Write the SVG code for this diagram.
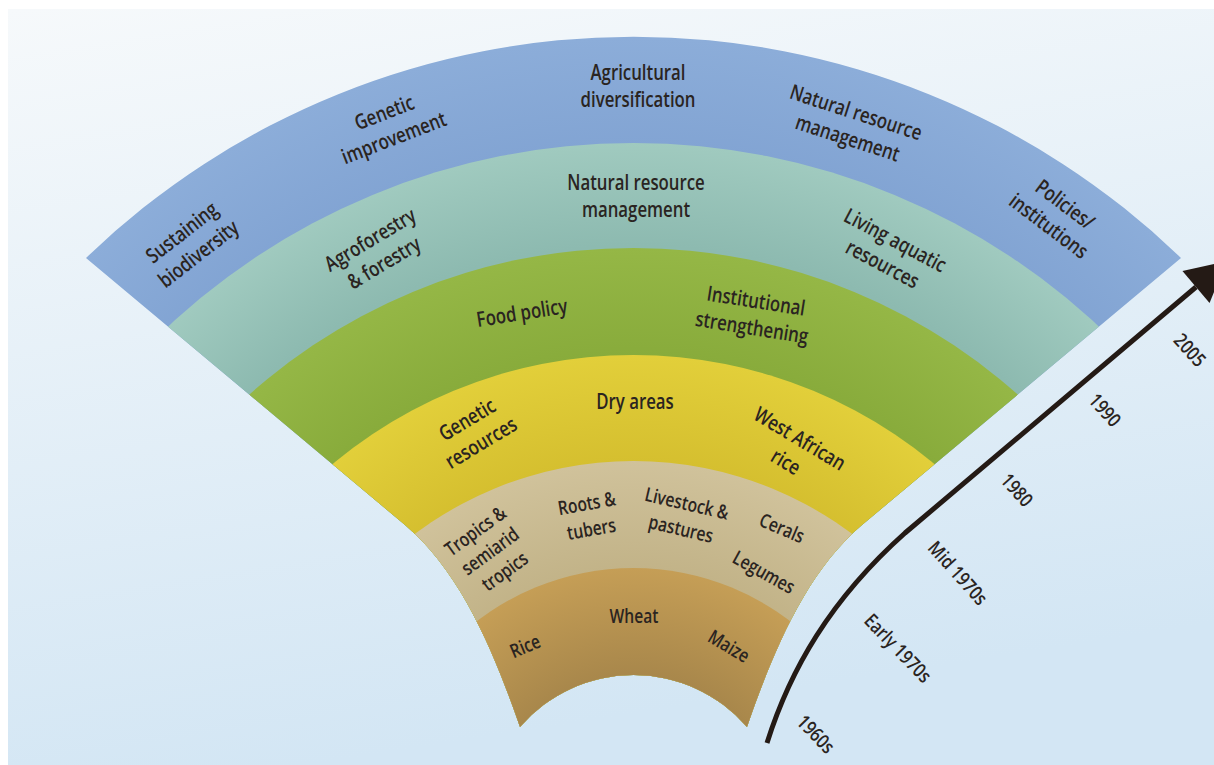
<svg xmlns="http://www.w3.org/2000/svg" width="1214" height="765" viewBox="0 0 1214 765">
  <defs>
    <style>
      .lbl { font-family: "Open Sans", "Liberation Sans", sans-serif; font-size: 21px; font-weight: 600; fill: #2a2421; text-anchor: middle; }
      .sm { font-size: 19.5px; }
      .yr { font-family: "Open Sans", "Liberation Sans", sans-serif; font-size: 19.5px; font-weight: 600; fill: #2a2421; text-anchor: middle; }
      .axis { fill: none; stroke: #241a15; stroke-width: 5; stroke-linecap: butt; }
    </style>
    <linearGradient id="bg" x1="0" y1="0" x2="0.25" y2="1">
      <stop offset="0" stop-color="#f6f9fb"/>
      <stop offset="1" stop-color="#d3e6f4"/>
    </linearGradient>
    <radialGradient id="gBlue" gradientUnits="userSpaceOnUse" cx="633.5" cy="825" r="788">
      <stop offset="0.86" stop-color="#82a4d3"/>
      <stop offset="1" stop-color="#8cadd9"/>
    </radialGradient>
    <radialGradient id="gTeal" gradientUnits="userSpaceOnUse" cx="633.5" cy="825" r="682">
      <stop offset="0.85" stop-color="#8dbab0"/>
      <stop offset="1" stop-color="#a0cabf"/>
    </radialGradient>
    <radialGradient id="gGreen" gradientUnits="userSpaceOnUse" cx="633.5" cy="825" r="577">
      <stop offset="0.81" stop-color="#88ab3b"/>
      <stop offset="1" stop-color="#95b746"/>
    </radialGradient>
    <radialGradient id="gYellow" gradientUnits="userSpaceOnUse" cx="633.5" cy="825" r="470">
      <stop offset="0.77" stop-color="#d5bf2f"/>
      <stop offset="1" stop-color="#e2cf3a"/>
    </radialGradient>
    <radialGradient id="gTan" gradientUnits="userSpaceOnUse" cx="633.5" cy="825" r="364">
      <stop offset="0.7" stop-color="#c2b388"/>
      <stop offset="1" stop-color="#d0c29b"/>
    </radialGradient>
    <radialGradient id="gBrown" gradientUnits="userSpaceOnUse" cx="633.5" cy="825" r="257">
      <stop offset="0.58" stop-color="#a8874b"/>
      <stop offset="1" stop-color="#c59e56"/>
    </radialGradient>
    <!-- fan outline: outer arc, curved flanks, inner arc -->
    <clipPath id="fanClip">
      <path d="M520,727 C495,655 462,573 405,525 L86,258 A788,788 0 0 1 1181,258 L862,525 C805,573 772,655 747,727 A150,150 0 0 0 520,727 Z"/>
    </clipPath>
    <marker id="arrowHead" markerUnits="userSpaceOnUse" viewBox="0 0 40 42" refX="0" refY="21" markerWidth="40" markerHeight="42" orient="auto" overflow="visible">
      <path d="M0,0 L40,21 L0,42 Z" fill="#241a15"/>
    </marker>
  </defs>

  <!-- page -->
  <rect x="0" y="0" width="1214" height="765" fill="#ffffff"/>
  <rect x="8" y="9" width="1206" height="756" fill="url(#bg)"/>

  <!-- rings, outermost first; each circle is clipped to the fan -->
  <g id="band-2005" clip-path="url(#fanClip)">
    <rect x="0" y="0" width="1214" height="765" fill="url(#gBlue)"/>
  </g>
  <g id="band-1990" clip-path="url(#fanClip)">
    <circle cx="633.5" cy="825" r="682" fill="url(#gTeal)"/>
  </g>
  <g id="band-1980" clip-path="url(#fanClip)">
    <circle cx="633.5" cy="825" r="577" fill="url(#gGreen)"/>
  </g>
  <g id="band-mid1970s" clip-path="url(#fanClip)">
    <circle cx="633.5" cy="825" r="470" fill="url(#gYellow)"/>
  </g>
  <g id="band-early1970s" clip-path="url(#fanClip)">
    <circle cx="633.5" cy="825" r="364" fill="url(#gTan)"/>
  </g>
  <g id="band-1960s" clip-path="url(#fanClip)">
    <circle cx="633.5" cy="825" r="257" fill="url(#gBrown)"/>
  </g>

  <!-- outer ring labels -->
  <g id="lbl-biodiversity" transform="translate(190,243) rotate(-38)">
    <text class="lbl" transform="scale(0.8,1)"><tspan x="0" y="-6">Sustaining</tspan><tspan x="0" y="21">biodiversity</tspan></text>
  </g>
  <g id="lbl-genetic-improvement" transform="translate(389,125) rotate(-21)">
    <text class="lbl" transform="scale(0.8,1)"><tspan x="0" y="-6">Genetic</tspan><tspan x="0" y="21">improvement</tspan></text>
  </g>
  <g id="lbl-diversification" transform="translate(638,87)">
    <text class="lbl" transform="scale(0.8,1)"><tspan x="0" y="-7">Agricultural</tspan><tspan x="0" y="20">diversification</tspan></text>
  </g>
  <g id="lbl-nrm-outer" transform="translate(852,125) rotate(18)">
    <text class="lbl" transform="scale(0.8,1)"><tspan x="0" y="-6">Natural resource</tspan><tspan x="0" y="21">management</tspan></text>
  </g>
  <g id="lbl-policies" transform="translate(1057,215) rotate(37)">
    <text class="lbl" transform="scale(0.8,1)"><tspan x="0" y="-6">Policies/</tspan><tspan x="0" y="21">institutions</tspan></text>
  </g>

  <!-- second ring labels -->
  <g id="lbl-agroforestry" transform="translate(377,251) rotate(-31)">
    <text class="lbl" transform="scale(0.8,1)"><tspan x="0" y="-6">Agroforestry</tspan><tspan x="0" y="21">&amp; forestry</tspan></text>
  </g>
  <g id="lbl-nrm-inner" transform="translate(636,197)">
    <text class="lbl" transform="scale(0.8,1)"><tspan x="0" y="-7">Natural resource</tspan><tspan x="0" y="20">management</tspan></text>
  </g>
  <g id="lbl-aquatic" transform="translate(889,252) rotate(28)">
    <text class="lbl" transform="scale(0.8,1)"><tspan x="0" y="-6">Living aquatic</tspan><tspan x="0" y="21">resources</tspan></text>
  </g>

  <!-- third ring labels -->
  <g id="lbl-food-policy" transform="translate(522,313) rotate(-9)">
    <text class="lbl" transform="scale(0.8,1)"><tspan x="0" y="7">Food policy</tspan></text>
  </g>
  <g id="lbl-institutional" transform="translate(754,314) rotate(9)">
    <text class="lbl" transform="scale(0.8,1)"><tspan x="0" y="-6">Institutional</tspan><tspan x="0" y="21">strengthening</tspan></text>
  </g>

  <!-- fourth ring labels -->
  <g id="lbl-genetic-resources" transform="translate(474,431) rotate(-31)">
    <text class="lbl" transform="scale(0.8,1)"><tspan x="0" y="-6">Genetic</tspan><tspan x="0" y="21">resources</tspan></text>
  </g>
  <g id="lbl-dry-areas" transform="translate(635,402)">
    <text class="lbl" transform="scale(0.8,1)"><tspan x="0" y="7">Dry areas</tspan></text>
  </g>
  <g id="lbl-west-african-rice" transform="translate(793,450) rotate(31)">
    <text class="lbl" transform="scale(0.8,1)"><tspan x="0" y="-6">West African</tspan><tspan x="0" y="21">rice</tspan></text>
  </g>

  <!-- fifth ring labels -->
  <g id="lbl-tropics" transform="translate(490,551) rotate(-36)">
    <text class="lbl sm" transform="scale(0.8,1)"><tspan x="0" y="-18">Tropics &amp;</tspan><tspan x="0" y="7">semiarid</tspan><tspan x="0" y="32">tropics</tspan></text>
  </g>
  <g id="lbl-roots" transform="translate(589,516) rotate(-10)">
    <text class="lbl sm" transform="scale(0.8,1)"><tspan x="0" y="-6">Roots &amp;</tspan><tspan x="0" y="20">tubers</tspan></text>
  </g>
  <g id="lbl-livestock" transform="translate(684,516) rotate(13)">
    <text class="lbl sm" transform="scale(0.8,1)"><tspan x="0" y="-6">Livestock &amp;</tspan><tspan x="0" y="20">pastures</tspan></text>
  </g>
  <g id="lbl-cerals" transform="translate(782,528) rotate(23)">
    <text class="lbl sm" transform="scale(0.8,1)"><tspan x="0" y="7">Cerals</tspan></text>
  </g>
  <g id="lbl-legumes" transform="translate(764,572) rotate(29)">
    <text class="lbl sm" transform="scale(0.8,1)"><tspan x="0" y="7">Legumes</tspan></text>
  </g>

  <!-- innermost ring labels -->
  <g id="lbl-rice" transform="translate(525,646) rotate(-23)">
    <text class="lbl sm" transform="scale(0.8,1)"><tspan x="0" y="7">Rice</tspan></text>
  </g>
  <g id="lbl-wheat" transform="translate(634,616)">
    <text class="lbl sm" transform="scale(0.8,1)"><tspan x="0" y="7">Wheat</tspan></text>
  </g>
  <g id="lbl-maize" transform="translate(729,646) rotate(31)">
    <text class="lbl sm" transform="scale(0.8,1)"><tspan x="0" y="7">Maize</tspan></text>
  </g>

  <!-- time axis -->
  <g id="connectors">
    <path class="axis" d="M767,743 C790,670 830,600 905,533 L1196,287" marker-end="url(#arrowHead)"/>
  </g>

  <g id="timeline-labels">
    <text class="yr" transform="translate(1190,350) rotate(48) scale(0.82,1)" y="7">2005</text>
    <text class="yr" transform="translate(1105,410) rotate(48) scale(0.82,1)" y="7">1990</text>
    <text class="yr" transform="translate(1017,490) rotate(48) scale(0.82,1)" y="7">1980</text>
    <text class="yr" transform="translate(958,573) rotate(48) scale(0.82,1)" y="7">Mid 1970s</text>
    <text class="yr" transform="translate(898,648) rotate(46) scale(0.82,1)" y="7">Early 1970s</text>
    <text class="yr" transform="translate(816,734) rotate(46) scale(0.82,1)" y="7">1960s</text>
  </g>
</svg>
